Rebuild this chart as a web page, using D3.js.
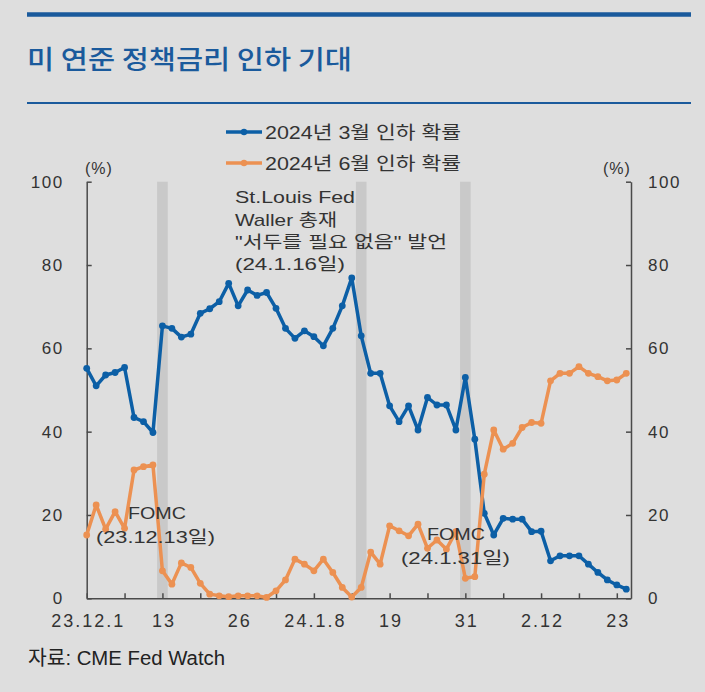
<html>
<head>
    <meta charset="utf-8">
    <style>
        body {
            margin: 0;
            background-color: #dedede;
            font-family: "Liberation Sans", "Noto Sans CJK KR", sans-serif;
        }
        svg {
            display: block;
        }
    </style>
    <script src="https://cdn.jsdelivr.net/npm/d3@7"></script>
</head>

<body>
    <svg id="chart"></svg>
</body>

<script>
    // trading days, 23.12.1 ~ 24.2.26
    let dates = ["23.12.1", "12.4", "12.5", "12.6", "12.7", "12.8", "12.11", "12.12", "12.13", "12.14",
        "12.15", "12.18", "12.19", "12.20", "12.21", "12.22", "12.26", "12.27", "12.28", "12.29",
        "24.1.2", "1.3", "1.4", "1.5", "1.8", "1.9", "1.10", "1.11", "1.12", "1.16",
        "1.17", "1.18", "1.19", "1.22", "1.23", "1.24", "1.25", "1.26", "1.29", "1.30",
        "1.31", "2.1", "2.2", "2.5", "2.6", "2.7", "2.8", "2.9", "2.12", "2.13",
        "2.14", "2.15", "2.16", "2.20", "2.21", "2.22", "2.23", "2.26"]

    // 2024년 3월 인하 확률 (%)
    let marchCut = [55.2, 51.0, 53.6, 54.2, 55.4, 43.4, 42.4, 39.8, 65.4, 64.8,
        62.7, 63.4, 68.4, 69.5, 71.2, 75.6, 70.2, 74.0, 72.7, 73.4,
        69.6, 64.8, 62.4, 64.2, 62.8, 60.6, 64.8, 70.2, 76.9, 63.0,
        54.0, 54.0, 46.2, 42.4, 46.2, 40.4, 48.2, 46.4, 46.4, 40.4,
        53.0, 38.2, 20.4, 15.2, 19.2, 19.0, 19.0, 16.0, 16.1, 9.0,
        10.2, 10.2, 10.2, 8.2, 6.2, 4.4, 3.2, 2.2]

    // 2024년 6월 인하 확률 (%)
    let juneCut = [15.2, 22.4, 16.6, 20.8, 16.8, 30.8, 31.6, 32.0, 6.6, 3.4,
        8.5, 7.4, 3.6, 1.0, 0.6, 0.4, 0.6, 0.6, 0.6, 0.2,
        1.8, 4.4, 9.4, 8.2, 6.6, 9.4, 6.2, 2.6, 0.3, 2.6,
        11.1, 8.2, 17.4, 16.2, 15.0, 17.8, 12.0, 14.0, 11.8, 16.0,
        4.8, 5.2, 29.8, 40.4, 35.8, 37.2, 41.0, 42.2, 42.0, 52.2,
        54.0, 54.0, 55.6, 54.0, 53.2, 52.2, 52.4, 54.0]

    let xTickLabels = ["23.12.1", "13", "26", "24.1.8", "19", "31", "2.12", "23"]
    let yTicks = [0, 20, 40, 60, 80, 100]

    // shaded event days: FOMC 12.13, Waller 1.16, FOMC 1.31
    let eventDays = ["12.13", "1.16", "1.31"]

    let seriesNames = ["2024년 3월 인하 확률", "2024년 6월 인하 확률"]

    let width = 705
    let height = 692
    let blue = "#0c5fa6"
    let orange = "#ec9152"
    let titleBlue = "#1a5a9c"

    let svg = d3.select("#chart")
        .attr("width", width)
        .attr("height", height)

    let x = d3.scaleLinear()
        .domain([0, 57.5])
        .range([86.7, 631])

    let y = d3.scaleLinear()
        .domain([0, 100])
        .range([598.3, 181.7])

    function drawHeader() {
        svg.append("line")
            .attr("x1", 27).attr("x2", 691)
            .attr("y1", 14.5).attr("y2", 14.5)
            .attr("stroke", titleBlue)
            .attr("stroke-width", 4.5)

        svg.append("text")
            .attr("x", 27)
            .attr("y", 69)
            .attr("fill", titleBlue)
            .style("font-family", "'Noto Sans CJK KR'")
            .style("font-size", "26px")
            .style("font-weight", 500)
            .attr("textLength", 325)
            .attr("lengthAdjust", "spacingAndGlyphs")
            .text("미 연준 정책금리 인하 기대")

        svg.append("line")
            .attr("x1", 27).attr("x2", 691)
            .attr("y1", 103).attr("y2", 103)
            .attr("stroke", titleBlue)
            .attr("stroke-width", 2)
    }

    function drawBands() {
        let bandWidth = 10.6
        svg.selectAll("rect.band")
            .data(eventDays)
            .enter().append("rect")
            .attr("class", "band")
            .attr("x", d => x(dates.indexOf(d)) - bandWidth / 2)
            .attr("y", y(100))
            .attr("width", bandWidth)
            .attr("height", y(0) - y(100))
            .attr("fill", "#c9c9c9")
    }

    function styleAxis(g, size) {
        g.select(".domain").attr("stroke", "#4a4a4a").attr("stroke-width", 1.5)
        g.selectAll(".tick line").attr("stroke", "#4a4a4a").attr("stroke-width", 1.5)
        g.selectAll(".tick text")
            .attr("fill", "#333")
            .style("font-family", "'Liberation Sans'")
            .style("font-size", size + "px")
            .style("letter-spacing", "1.5px")
    }

    function drawAxes() {
        let xTicks = d3.range(0, 57, 4)
        let bottom = svg.append("g")
            .attr("transform", `translate(0, ${y(0)})`)
            .call(d3.axisBottom(x)
                .tickValues(xTicks)
                .tickSize(-5)
                .tickSizeOuter(0)
                .tickPadding(16)
                .tickFormat((d, i) => i % 2 == 0 ? xTickLabels[i / 2] : ""))
        styleAxis(bottom, 18)
        bottom.selectAll(".tick text").style("letter-spacing", "2px").attr("dx", "1px")

        let left = svg.append("g")
            .attr("transform", `translate(${x(0)}, 0)`)
            .call(d3.axisLeft(y).tickValues(yTicks).tickSize(-5).tickSizeOuter(0).tickPadding(23))
        styleAxis(left, 17)

        let right = svg.append("g")
            .attr("transform", `translate(${x(57.5)}, 0)`)
            .call(d3.axisRight(y).tickValues(yTicks).tickSize(-5).tickSizeOuter(0).tickPadding(17))
        styleAxis(right, 17)

        svg.append("text")
            .attr("x", 85).attr("y", 174)
            .attr("fill", "#333")
            .style("font-size", "16px")
            .style("letter-spacing", "1px")
            .text("(%)")
        svg.append("text")
            .attr("x", 603).attr("y", 174)
            .attr("fill", "#333")
            .style("font-size", "16px")
            .style("letter-spacing", "1px")
            .text("(%)")
    }

    function drawSeries(values, color) {
        let line = d3.line()
            .x((d, i) => x(i))
            .y(d => y(d))

        svg.append("path")
            .datum(values)
            .attr("d", line)
            .attr("fill", "none")
            .attr("stroke", color)
            .attr("stroke-width", 3.5)
            .attr("stroke-linejoin", "round")

        svg.append("g").selectAll("circle")
            .data(values)
            .enter().append("circle")
            .attr("cx", (d, i) => x(i))
            .attr("cy", d => y(d))
            .attr("r", 3.4)
            .attr("fill", color)
    }

    function drawLegend() {
        let colors = [blue, orange]
        let legend = svg.selectAll("g.legend")
            .data(seriesNames)
            .enter().append("g")
            .attr("class", "legend")
            .attr("transform", (d, i) => `translate(226, ${132 + i * 31})`)

        legend.append("line")
            .attr("x1", 0).attr("x2", 36)
            .attr("stroke", (d, i) => colors[i])
            .attr("stroke-width", 3.5)
        legend.append("circle")
            .attr("cx", 18)
            .attr("r", 3.2)
            .attr("fill", (d, i) => colors[i])
        legend.append("text")
            .attr("x", 39)
            .attr("y", 6.5)
            .attr("fill", "#333")
            .style("font-size", "18px")
            .attr("textLength", 196)
            .attr("lengthAdjust", "spacingAndGlyphs")
            .text(d => d)
    }

    function drawNotes() {
        let notes = [
            {x: 235, y: 203, text: "St.Louis Fed", len: 120},
            {x: 235, y: 226, text: "Waller 총재", len: 102},
            {x: 235, y: 248, text: "\"서두를 필요 없음\" 발언", len: 212},
            {x: 235, y: 270, text: "(24.1.16일)", len: 110},
            {x: 128, y: 519, text: "FOMC", len: 58},
            {x: 96, y: 543, text: "(23.12.13일)", len: 119},
            {x: 427, y: 540, text: "FOMC", len: 58},
            {x: 401, y: 564, text: "(24.1.31일)", len: 109}
        ]
        svg.selectAll("text.note")
            .data(notes)
            .enter().append("text")
            .attr("class", "note")
            .attr("x", d => d.x)
            .attr("y", d => d.y)
            .attr("fill", "#333")
            .style("font-size", "17px")
            .attr("textLength", d => d.len)
            .attr("lengthAdjust", "spacingAndGlyphs")
            .text(d => d.text)

        svg.append("text")
            .attr("x", 28)
            .attr("y", 665)
            .attr("fill", "#222")
            .style("font-size", "20px")
            .attr("textLength", 197)
            .attr("lengthAdjust", "spacingAndGlyphs")
            .text("자료: CME Fed Watch")
    }

    drawHeader()
    drawBands()
    drawAxes()
    drawSeries(marchCut, blue)
    drawSeries(juneCut, orange)
    drawLegend()
    drawNotes()
</script>

</html>
